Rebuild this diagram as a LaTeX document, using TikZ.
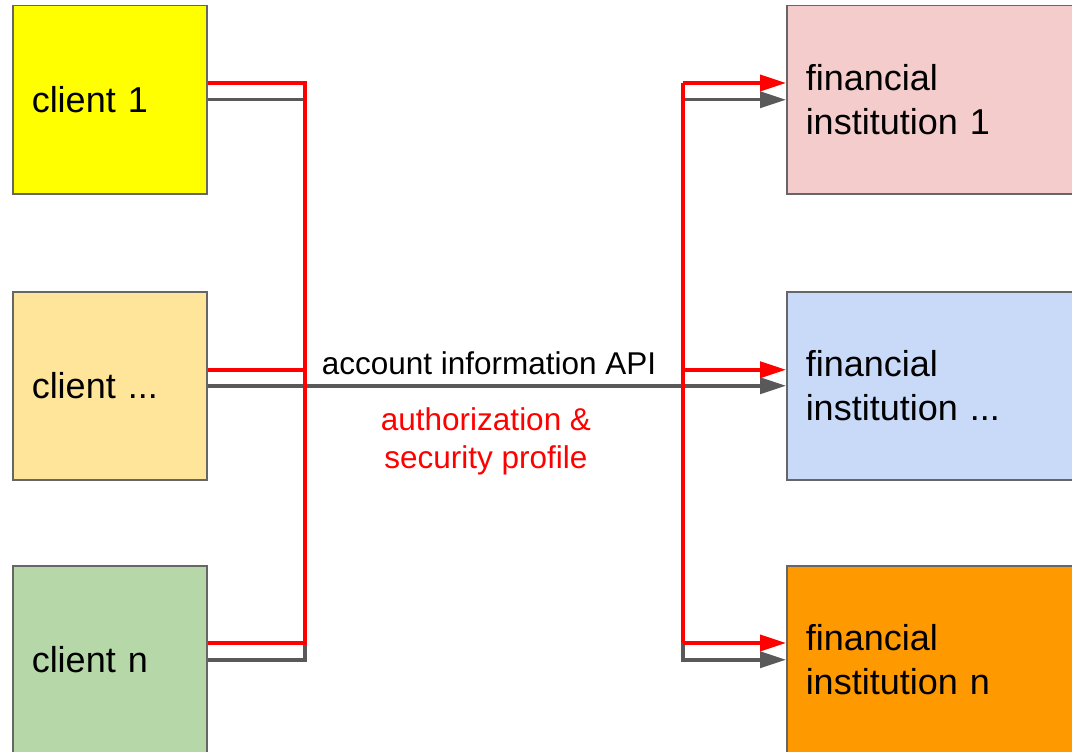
\documentclass[tikz,border=0pt]{standalone}
\usepackage{fontspec}
\setmainfont{Liberation Sans}
\usetikzlibrary{arrows.meta}
\definecolor{boxedge}{HTML}{666666}
\definecolor{apigray}{HTML}{595959}
\definecolor{authred}{HTML}{FF0000}
\definecolor{fillA}{HTML}{FFFF00}
\definecolor{fillB}{HTML}{FFE599}
\definecolor{fillC}{HTML}{B6D7A8}
\definecolor{fillD}{HTML}{F4CCCC}
\definecolor{fillE}{HTML}{C9DAF8}
\definecolor{fillF}{HTML}{FF9900}
\begin{document}
\begin{tikzpicture}[x=1pt,y=-1pt,
  box/.style={draw=boxedge, line width=1.5pt, anchor=north west,
    minimum height=188pt, inner xsep=19pt, inner ysep=0pt, align=left,
    font=\fontsize{36}{44}\selectfont},
  clientbox/.style={box, text width=156pt},
  instbox/.style={box, text width=262pt},
  redline/.style={draw=authred, line width=3.5pt},
  grayline/.style={draw=apigray, line width=3.5pt},
  tip/.style={-{Triangle[length=26pt,width=16pt]}},
  lbl/.style={font=\fontsize{31.5}{38}\selectfont, align=center}]
\useasboundingbox (0,0) rectangle (1072,752);
\clip (0,0) rectangle (1072,752);

% clients
\node[clientbox, fill=fillA] (c1) at (12,5)   {client 1};
\node[clientbox, fill=fillB] (cm) at (12,291) {client ...};
\node[clientbox, fill=fillC] (cn) at (12,565) {client n};

% financial institutions
\node[instbox, fill=fillD] (f1) at (786,5)   {financial\\institution 1};
\node[instbox, fill=fillE] (f2) at (786,291) {financial\\institution ...};
\node[instbox, fill=fillF] (fn) at (786,565) {financial\\institution n};

% bus corners
\coordinate (lt) at (305,83);
\coordinate (lb) at (305,643);
\coordinate (rt) at (683,83);
\coordinate (rb) at (683,643);

% API connections (gray)
\draw[grayline] (c1.east) -- (c1.east -| lt);
\draw[grayline] (cn.east) -- (cn.east -| lb) -- (lb);
\draw[grayline, tip] (cm.east) -- (f2.west);
\draw[grayline, tip] (f1.west -| rt) -- (f1.west);
\draw[grayline, tip] (rb) -- (fn.west -| rb) -- (fn.west);

% authorization bus (red)
\draw[redline] (c1.east |- lt) -- (lt) -- (lb) -- (cn.east |- lb);
\draw[redline] ([yshift=16pt]cm.east) -- ([yshift=16pt]cm.east -| lt);
\draw[redline] (rt) -- (rb);
\draw[redline, tip] (rt) -- (f1.west |- rt);
\draw[redline, tip] ([yshift=16pt]f2.west -| rt) -- ([yshift=16pt]f2.west);
\draw[redline, tip] (rb) -- (fn.west |- rb);

% labels
\node[lbl, anchor=base] (api) at (489,374) {account information API};
\node[lbl, text=authred] (auth) at (486,441) {authorization \&\\security profile};
\end{tikzpicture}
\end{document}
